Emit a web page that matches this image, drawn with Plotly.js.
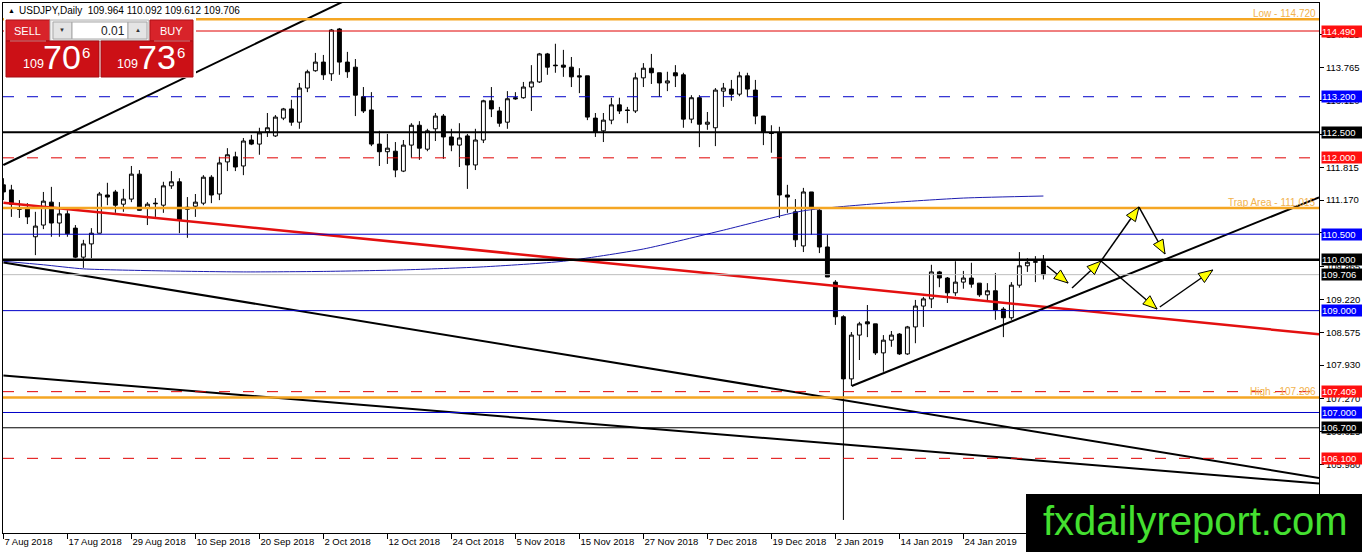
<!DOCTYPE html>
<html><head><meta charset="utf-8">
<script src="https://cdn.plot.ly/plotly-3.0.1.min.js"></script>
<style>html,body{margin:0;padding:0;background:#fff;overflow:hidden}#chart{width:1362px;height:554px}</style>
</head><body><div id="chart"></div>
<script>
// ---------- DATA ----------
const tickIdx = [0,8,16,24,32,40,48,56,64,72,80,88,96,104,112,120];
const tickLabels = ['7 Aug 2018','17 Aug 2018','29 Aug 2018','10 Sep 2018','20 Sep 2018','2 Oct 2018','12 Oct 2018','24 Oct 2018','5 Nov 2018','15 Nov 2018','27 Nov 2018','7 Dec 2018','19 Dec 2018','2 Jan 2019','14 Jan 2019','24 Jan 2019'];
const priceTicks = [114.425,113.765,113.120,112.460,111.815,111.170,110.525,109.865,109.220,108.575,107.930,107.270,106.625,105.980,105.335];

const opens = [
111.47,111.37,111.01,111.01,110.45,110.68,111.13,110.72,110.90,110.62,
110.05,110.31,110.52,111.27,111.33,111.09,111.19,111.68,111.01,111.11,
111.07,111.45,111.53,111.03,111.05,111.11,111.62,111.29,111.92,112.02,
111.84,112.35,112.27,112.51,112.43,112.78,112.96,112.70,113.37,113.71,
113.88,113.65,114.53,113.88,113.78,113.20,112.94,112.27,112.12,112.13,
111.74,112.25,112.64,112.17,112.57,112.82,112.41,112.25,112.43,111.86,
112.35,113.12,112.92,112.70,113.18,113.18,113.39,113.49,114.04,113.82,
113.82,113.78,113.61,113.61,112.78,112.53,112.74,113.04,112.94,112.92,
113.57,113.76,113.67,113.47,113.67,113.63,112.76,113.18,112.66,112.59,
113.31,113.35,113.25,113.61,113.33,112.82,112.49,112.49,111.27,110.94,
110.27,111.33,110.97,110.25,109.56,108.88,107.66,108.52,108.78,108.74,
108.17,108.42,108.54,108.15,108.68,109.09,109.23,109.76,109.64,109.35,
109.56,109.64,109.54,109.31,109.39,109.03,108.86,109.50,109.88,109.95,
109.964];
const highs = [
111.60,111.47,111.17,111.11,110.94,111.33,111.43,111.13,110.97,110.68,
110.39,110.62,111.33,111.51,111.37,111.39,111.84,111.76,111.13,111.21,
111.53,111.74,111.60,111.23,111.29,111.66,111.66,112.02,112.19,112.12,
112.39,112.45,112.59,112.88,112.84,112.98,113.14,113.47,113.73,114.06,
114.02,114.53,114.55,114.08,113.94,113.39,113.29,112.53,112.47,112.31,
112.35,112.68,112.72,112.57,112.88,112.86,112.57,112.68,112.47,112.57,
113.14,113.39,113.00,113.31,113.29,113.49,113.82,114.06,114.06,114.24,
114.12,113.98,113.76,113.61,112.88,112.88,113.18,113.18,113.00,113.67,
113.86,114.04,113.67,113.69,113.82,113.67,113.23,113.23,112.90,113.37,
113.47,113.53,113.69,113.67,113.53,112.82,112.64,112.61,111.47,111.19,
111.41,111.33,111.01,110.49,109.60,108.91,108.58,108.78,109.11,108.74,
108.52,108.60,108.56,108.70,109.21,109.27,109.90,109.78,109.66,109.97,
109.78,109.94,109.54,109.54,109.74,109.07,109.56,110.15,110.03,110.07,
110.092];
const lows = [
111.17,110.84,110.82,110.70,110.09,110.60,110.45,110.45,110.45,110.03,
109.84,110.03,110.52,111.07,110.92,110.94,111.13,110.96,110.68,110.84,
110.92,111.39,110.52,110.43,110.84,111.07,111.11,111.17,111.74,111.74,
111.66,112.25,112.06,112.41,112.41,112.74,112.63,112.57,113.29,113.69,
113.53,113.51,113.63,113.57,112.82,112.88,112.23,111.84,111.88,111.62,
111.72,112.00,111.96,112.13,112.33,111.98,112.13,111.82,111.39,111.76,
112.29,112.80,112.61,112.57,113.14,113.16,112.92,113.47,113.63,113.67,
113.59,113.39,113.27,112.74,112.41,112.31,112.66,112.86,112.68,112.88,
113.39,113.45,113.20,113.31,113.39,112.59,112.68,112.21,112.55,112.23,
113.00,113.12,113.21,113.20,112.66,112.25,112.10,110.82,110.92,110.25,
110.15,110.49,110.13,109.66,108.72,104.89,107.52,108.03,108.48,108.13,
107.80,108.29,108.13,108.13,108.36,108.68,109.05,109.46,109.15,109.29,
109.43,109.45,109.27,109.17,108.82,108.48,108.82,109.45,109.76,109.56,
109.612];
const closes = [
111.33,111.09,110.99,110.84,110.66,111.15,110.72,110.90,110.51,110.05,
110.31,110.52,111.29,111.23,111.07,111.19,111.68,110.97,111.09,111.10,
111.45,111.53,110.78,110.99,111.13,111.62,111.27,111.90,112.06,111.82,
112.33,112.27,112.49,112.59,112.80,112.96,112.70,113.37,113.69,113.88,
113.63,114.51,113.88,113.69,113.23,112.92,112.27,112.12,112.19,111.76,
112.25,112.64,112.19,112.53,112.82,112.41,112.25,112.39,111.86,112.35,
113.12,112.96,112.68,113.16,113.16,113.39,113.49,114.04,113.78,113.81,
113.78,113.59,113.59,112.80,112.51,112.74,113.04,112.92,112.93,113.57,
113.76,113.67,113.47,113.51,113.61,112.76,113.18,112.66,112.70,113.33,
113.37,113.25,113.61,113.35,112.82,112.51,112.48,111.27,111.23,110.39,
111.33,111.01,110.25,109.66,108.88,107.66,108.52,108.74,108.74,108.17,
108.42,108.52,108.15,108.68,109.09,109.23,109.76,109.64,109.35,109.56,
109.64,109.52,109.31,109.39,109.01,108.86,109.50,109.88,109.95,109.96,
109.706];

// moving average
const maIdx = [0,5,10,20,30,40,50,60,70,80,90,100,110,120,130];
const maVals = [109.97,109.90,109.82,109.78,109.76,109.77,109.80,109.86,109.97,110.21,110.58,110.96,111.11,111.21,111.25];

// trend lines
const topLineIdx = [0,44], topLinePrice = [111.859,115.184];
const redLineIdx = [0,164.45], redLinePrice = [111.119,108.535];
const down1Idx = [0,164.45], down1Price = [109.945,105.713];
const down2Idx = [0,164.45], down2Price = [107.726,105.605];
const supportIdx = [106.04,164.45], supportPrice = [107.52,111.225];

// horizontal levels
const levelPrices = [114.72,114.49,113.2,112.5,112.0,111.015,110.5,110.0,109.706,109.0,107.409,107.296,107.0,106.7,106.1];
// right-side price tags
const tagPrices = [114.49,113.2,112.5,112.0,110.5,110.0,109.706,109.0,107.409,107.0,106.7,106.1];
const tagTexts = ['114.490','113.200','112.500','112.000','110.500','110.000','109.706','109.000','107.409','107.000','106.700','106.100'];
// orange level captions
const captionTexts = ['Low - 114.720','Trap Area - 111.015','High - 107.296'];
const captionPrices = [114.72,111.015,107.296];

// projection arrows
const arrowFromIdx = [130.45,133.58,137.2,141.95,137.2,144.55];
const arrowFromPrice = [109.876,109.444,109.974,111.034,109.974,109.071];
const arrowToIdx = [133.08,137.2,141.95,145.2,144.2,151.17];
const arrowToPrice = [109.542,109.974,111.034,110.112,109.032,109.798];

const header = 'USDJPY,Daily  109.964 110.092 109.612 109.706';

// ---------- STYLES / GEOMETRY ----------
const W=1362,H=554,ML=3,MR=43,MT=3,MB=21;
const PW=W-ML-MR, PH=H-MT-MB;
const xr=[-0.05,164.45], yr=[104.634,115.04];
const F='"Liberation Sans", Arial, sans-serif';
const FN='"Liberation Sans Narrow","Arial Narrow","Liberation Sans",sans-serif';
const RED='#e00000', BLUE='#0000c8', ORANGE='#f5a623';
const DASH='11px,13px';
const levelStyles = [
 {color:ORANGE,width:2.5},{color:RED,width:1},{color:BLUE,width:1,dash:DASH},{color:'#000',width:2},
 {color:RED,width:1,dash:DASH},{color:ORANGE,width:2.5},{color:BLUE,width:1},{color:'#000',width:2.5},
 {color:'#bdbdbd',width:1},{color:BLUE,width:1},{color:RED,width:1,dash:DASH},{color:ORANGE,width:2.5},
 {color:BLUE,width:1},{color:'#000',width:1},{color:RED,width:1,dash:DASH}];
const tagColors = ['#ff1010','#0000ff','#000','#ff1010','#0000ff','#000','#000','#0000ff','#ff1010','#0000ff','#000','#ff1010'];

const pxX = X => (X-ML)/PW;
const pxY = Y => (H-MB-Y)/PH;
const d2X = i => ML + (i-xr[0])/(xr[1]-xr[0])*PW;
const d2Y = v => MT + (yr[1]-v)/(yr[1]-yr[0])*PH;

const idx = opens.map((_,i)=>i);

const traces = [
 {type:'candlestick', x:idx, open:opens, high:highs, low:lows, close:closes,
  increasing:{line:{color:'#000',width:1}, fillcolor:'#ffffff'},
  decreasing:{line:{color:'#000',width:1}, fillcolor:'#000000'},
  whiskerwidth:0, hoverinfo:'skip'},
 {type:'scatter',mode:'lines',x:maIdx,y:maVals,line:{color:'#1c1cb0',width:1,shape:'spline',smoothing:0.6},hoverinfo:'skip'},
 {type:'scatter',mode:'lines',x:redLineIdx,y:redLinePrice,line:{color:'#e31010',width:2.5},hoverinfo:'skip'},
 {type:'scatter',mode:'lines',x:topLineIdx,y:topLinePrice,line:{color:'#000',width:2},hoverinfo:'skip'},
 {type:'scatter',mode:'lines',x:down1Idx,y:down1Price,line:{color:'#000',width:2},hoverinfo:'skip'},
 {type:'scatter',mode:'lines',x:down2Idx,y:down2Price,line:{color:'#000',width:2},hoverinfo:'skip'},
 {type:'scatter',mode:'lines',x:supportIdx,y:supportPrice,line:{color:'#000',width:2},hoverinfo:'skip'}
];

const shapes = [];
levelPrices.forEach((p,k)=>shapes.push({type:'line',xref:'paper',yref:'y',x0:0,x1:1,y0:p,y1:p,layer:'above',line:levelStyles[k]}));

// arrows
arrowFromIdx.forEach((_,k)=>{
  shapes.push({type:'line',xref:'x',yref:'y',x0:arrowFromIdx[k],y0:arrowFromPrice[k],x1:arrowToIdx[k],y1:arrowToPrice[k],layer:'above',line:{color:'#000',width:1.5}});
  const x0=d2X(arrowFromIdx[k]), y0=d2Y(arrowFromPrice[k]), x1=d2X(arrowToIdx[k]), y1=d2Y(arrowToPrice[k]);
  const len=Math.hypot(x1-x0,y1-y0), ux=(x1-x0)/len, uy=(y1-y0)/len;
  const hl=14, hw=5.5;
  const bx=x1-ux*hl, by=y1-uy*hl;
  const pts=[[x1,y1],[bx-uy*hw,by+ux*hw],[bx+uy*hw,by-ux*hw]];
  const path='M'+pts.map(p=>pxX(p[0]).toFixed(5)+','+pxY(p[1]).toFixed(5)).join(' L')+' Z';
  shapes.push({type:'path',xref:'paper',yref:'paper',path:path,fillcolor:'#ffff00',line:{color:'#000',width:1},layer:'above'});
});

function rect(x0,y0,x1,y1,fill,lc,lw){shapes.push({type:'rect',xref:'paper',yref:'paper',x0:pxX(x0),x1:pxX(x1),y0:pxY(y1),y1:pxY(y0),fillcolor:fill,line:{color:lc||fill,width:lw===undefined?0:lw},layer:'above'});}
// trading panel
rect(4,16,196,78,'#ffffff');
rect(6,20,50,41,'#d8232a','#b01015',1);
rect(50,20,149,41,'#f0f0f0','#b4b4b4',1);
rect(53,22,72,39,'#e4e4e4','#a8a8a8',1);
rect(72,22,128,39,'#ffffff','#a8a8a8',1);
rect(128,22,147,39,'#e4e4e4','#a8a8a8',1);
rect(150,20,193,41,'#d8232a','#b01015',1);
rect(6,41,99,77,'#cc1016','#a50d12',1);
rect(101,41,193,77,'#cc1016','#a50d12',1);
shapes.push({type:'line',xref:'paper',yref:'paper',x0:pxX(10),x1:pxX(46),y0:pxY(41),y1:pxY(41),line:{color:'rgba(255,255,255,0.45)',width:1},layer:'above'});
shapes.push({type:'line',xref:'paper',yref:'paper',x0:pxX(154),x1:pxX(190),y0:pxY(41),y1:pxY(41),line:{color:'rgba(255,255,255,0.45)',width:1},layer:'above'});
// watermark box
rect(1026,494,1362,552,'#000000');

const annotations = [];
function txt(X,Y,t,size,color,xa,fam){annotations.push({xref:'paper',yref:'paper',x:pxX(X),y:pxY(Y),text:t,showarrow:false,xanchor:xa||'center',yanchor:'middle',font:{family:fam||F,size:size,color:color}});}
txt(6,11,'▲',7,'#000','left');
txt(17,11,header,10,'#000','left');
txt(27,31,'SELL',11,'#fff');
txt(171,31,'BUY',11,'#fff');
txt(127,31,'0.01',12,'#222','right');
txt(62,30,'▼',6,'#333');
txt(138,30,'▲',6,'#333');
txt(33,64,'109',12.5,'#fff');
txt(62,57,'70',34,'#fff','center',FN);
txt(86,53,'6',15,'#fff','center',FN);
txt(127,64,'109',12.5,'#fff');
txt(157,57,'73',34,'#fff','center',FN);
txt(181,53,'6',15,'#fff','center',FN);
txt(1195,521,'fxdailyreport.com',40,'#44e030','center');

captionTexts.forEach((t,k)=>annotations.push({xref:'paper',yref:'y',x:pxX(1318),y:captionPrices[k],yshift:6,text:t,showarrow:false,xanchor:'right',yanchor:'middle',font:{family:F,size:10,color:'#f2b24c'}}));

tagPrices.forEach((p,k)=>annotations.push({xref:'paper',yref:'y',x:pxX(1321),y:p,text:tagTexts[k],showarrow:false,xanchor:'left',yanchor:'middle',align:'left',width:40,height:11,borderpad:0,bgcolor:tagColors[k],font:{family:F,size:9.5,color:'#fff'}}));

const layout = {
  width:W,height:H,margin:{l:ML,r:MR,t:MT,b:MB,pad:0},
  paper_bgcolor:'#ffffff',plot_bgcolor:'#ffffff',showlegend:false,
  xaxis:{range:xr,showgrid:false,zeroline:false,showline:true,mirror:true,linecolor:'#000',linewidth:1,
    ticks:'outside',ticklen:5,tickcolor:'#000',tickvals:tickIdx,ticktext:tickLabels,ticklabelposition:'outside right',
    tickfont:{family:F,size:9.5,color:'#000'},rangeslider:{visible:false},automargin:false,fixedrange:true},
  yaxis:{range:yr,side:'right',showgrid:false,zeroline:false,showline:true,mirror:true,linecolor:'#000',linewidth:1,
    ticks:'outside',ticklen:4,tickcolor:'#000',tickvals:priceTicks,ticktext:priceTicks.map(v=>v.toFixed(3)),
    tickfont:{family:F,size:9.5,color:'#000'},automargin:false,fixedrange:true},
  shapes:shapes,annotations:annotations
};
Plotly.newPlot('chart',traces,layout,{staticPlot:true,displayModeBar:false});
</script></body></html>
